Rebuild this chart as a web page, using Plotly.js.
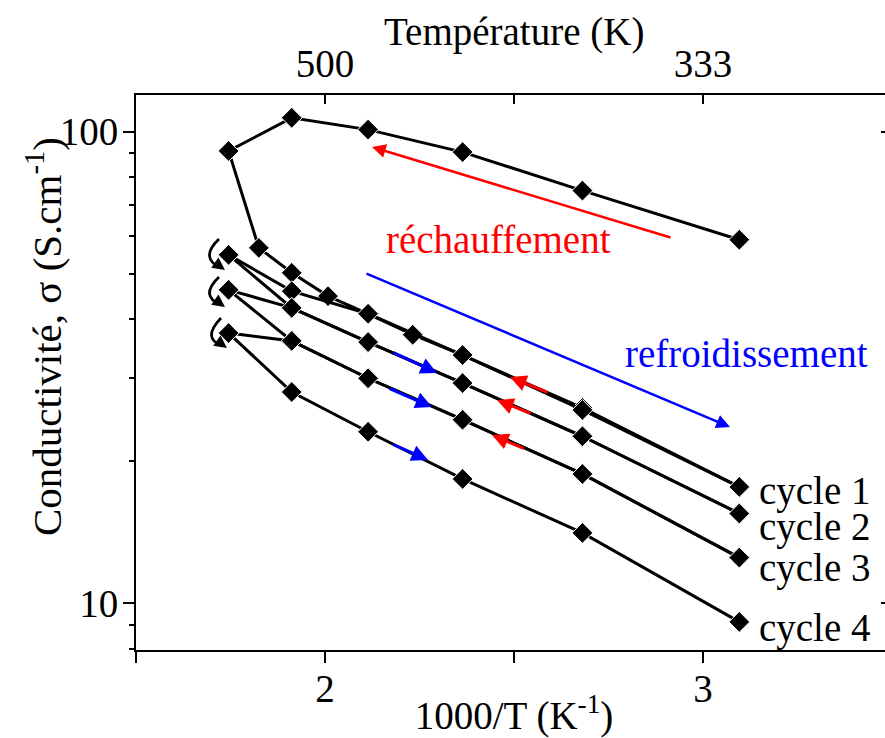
<!DOCTYPE html>
<html>
<head>
<meta charset="utf-8">
<script src="https://cdn.plot.ly/plotly-3.0.1.min.js"></script>
<style>
html,body{margin:0;padding:0;overflow:hidden;background:#fff;}
#chart{width:900px;height:738px;}
</style>
</head>
<body>
<div id="chart"></div>
<script>
// 1000/T values (K^-1)
const xHeat  = [3.096, 2.681, 2.364, 2.114, 1.912, 1.745];
const xCool  = [1.745, 1.912, 2.114, 2.364, 2.681, 3.096];
const xCool1 = [1.745, 1.825, 1.912, 2.008, 2.114, 2.232, 2.364, 2.681, 3.096];
// conductivity (S/cm)
const heat0 = [59, 75, 90.5, 101, 107, 91];
const cool1 = [91, 56.7, 50.2, 44.8, 41.1, 37.1, 33.6, 25.95, 17.65];
const heat1 = [17.65, 25.7, 33.6, 41.1, 45.9, 54.8];
const cool2 = [54.8, 42.3, 35.8, 29.3, 22.6, 15.5];
const heat2 = [15.5, 22.6, 29.3, 35.8, 42.3, 46.2];
const cool3 = [46.2, 36.0, 30.0, 24.5, 18.8, 12.5];
const heat3 = [12.5, 18.8, 24.5, 30.0, 36.0, 37.4];
const cool4 = [37.4, 28.05, 23.1, 18.35, 14.1, 9.13];
const cycleLabels = ['cycle 1', 'cycle 2', 'cycle 3', 'cycle 4'];
const xTickVals = [1.5, 2, 2.5, 3];
const xTickText = ['', '2', '', '3'];
const topTickVals = [2, 2.5, 3];
const topTickText = ['500', '', '333'];
const yTickVals = [10, 100];
const yTickText = ['10', '100'];
const yMinorVals = [8, 9, 20, 30, 40, 50, 60, 70, 80, 90];

const FONT = 'Liberation Serif, Times New Roman, serif';
const FS = 39;

function seg(x, y) {
  return {
    x: x, y: y, type: 'scatter', mode: 'lines+markers', showlegend: false,
    line: {color: 'black', width: 3},
    marker: {symbol: 'diamond', size: 16, color: 'black', line: {color: 'white', width: 1}},
    hoverinfo: 'skip'
  };
}
const traces = [
  seg(xHeat.concat(xCool1.slice(1)), heat0.concat(cool1.slice(1))),
  seg(xHeat, heat1),
  seg(xCool, cool2),
  seg(xHeat, heat2),
  seg(xCool, cool3),
  seg(xHeat, heat3),
  seg(xCool, cool4)
];
// dummy traces to activate the mirrored axes
traces.push({x: [2], y: [20], xaxis: 'x2', yaxis: 'y', mode: 'markers', marker: {opacity: 0}, showlegend: false, hoverinfo: 'skip'});
traces.push({x: [2], y: [20], xaxis: 'x', yaxis: 'y2', mode: 'markers', marker: {opacity: 0}, showlegend: false, hoverinfo: 'skip'});

// pixel -> axis helpers for decorations (plot area 136..892 x 95..650)
const X = px => 1.5 + (px - 136) / 378;
const YL = py => 2 - (py - 131.7) / 471.6;
const PX = px => (px - 136) / 756;
const PY = py => (650 - py) / 555;

const yRange = [Math.log10(7.96), Math.log10(119.6)];

function arrow(x0, y0, x1, y1, color, w) {
  return {
    xref: 'x', yref: 'y', axref: 'x', ayref: 'y',
    x: X(x1), y: YL(y1), ax: X(x0), ay: YL(y0),
    text: '', showarrow: true, arrowhead: 2, arrowsize: 1.1,
    arrowwidth: w, arrowcolor: color, standoff: 0, startstandoff: 0
  };
}
function txt(t, px, py, color, anchor) {
  return {
    xref: 'x', yref: 'y', x: X(px), y: YL(py), text: t, showarrow: false,
    xanchor: anchor || 'center', yanchor: 'middle',
    font: {family: FONT, size: FS, color: color}
  };
}
function headOnly(px, py, dx, dy) {
  return {
    xref: 'x', yref: 'y', x: X(px), y: YL(py), ax: dx, ay: dy,
    text: '', showarrow: true, arrowhead: 2, arrowsize: 1, arrowwidth: 2.5,
    arrowcolor: 'black', standoff: 0
  };
}

const annotations = [
  arrow(672, 238, 372, 147, '#ff0000', 2.5),
  arrow(365, 273, 730, 427, '#0000ff', 2.5),
  arrow(392, 352, 437, 373, '#0000ff', 3),
  arrow(388, 388, 432, 407, '#0000ff', 3),
  arrow(392, 444, 428, 460, '#0000ff', 3),
  arrow(549, 393, 510, 377, '#ff0000', 3),
  arrow(532, 414, 497, 400, '#ff0000', 3),
  arrow(525, 449, 492, 435, '#ff0000', 3),
  txt('réchauffement', 498, 240, '#ff0000'),
  txt('refroidissement', 746, 354, '#0000ff'),
  txt(cycleLabels[0], 757, 491, 'black', 'left'),
  txt(cycleLabels[1], 757, 527, 'black', 'left'),
  txt(cycleLabels[2], 757, 568, 'black', 'left'),
  txt(cycleLabels[3], 757, 628, 'black', 'left'),
  headOnly(225, 270, -7, -5),
  headOnly(225, 307, -7, -5),
  headOnly(227, 348, -7, -5),
  {
    xref: 'paper', yref: 'paper', x: PX(44), y: PY(337),
    text: 'Conductivité, σ (S.cm<sup>-1</sup>)', textangle: -90, showarrow: false,
    xanchor: 'center', yanchor: 'middle',
    font: {family: FONT, size: 41, color: 'black'}
  },
  {
    xref: 'paper', yref: 'paper', x: PX(514), y: PY(32),
    text: 'Température (K)', showarrow: false,
    xanchor: 'center', yanchor: 'middle',
    font: {family: FONT, size: FS, color: 'black'}
  }
];

function curl(x0, y0, xc, yc, x1, y1) {
  return {
    type: 'path', xref: 'paper', yref: 'paper',
    path: 'M ' + PX(x0) + ',' + PY(y0) + ' Q ' + PX(xc) + ',' + PY(yc) + ' ' + PX(x1) + ',' + PY(y1),
    line: {color: 'black', width: 2.8}
  };
}
const shapes = [
  curl(219, 239, 199, 258, 221, 268),
  curl(219, 277, 199, 296, 221, 305),
  curl(221, 318, 201, 339, 223, 346)
];

const axisCommon = {
  showgrid: false, zeroline: false, showline: true, linecolor: 'black', linewidth: 2,
  tickcolor: 'black', tickwidth: 2,
  tickfont: {family: FONT, size: FS, color: 'black'}
};

const layout = {
  width: 900, height: 738,
  margin: {l: 136, r: 8, t: 95, b: 88, pad: 0},
  paper_bgcolor: 'white', plot_bgcolor: 'white',
  font: {family: FONT, size: FS, color: 'black'},
  showlegend: false,
  xaxis: Object.assign({}, axisCommon, {
    range: [1.5, 3.5], tickmode: 'array', tickvals: xTickVals, ticktext: xTickText,
    ticks: 'outside', ticklen: 11, ticklabelstandoff: -8,
    title: {text: '1000/T (K<sup>-1</sup>)', font: {family: FONT, size: FS}, standoff: 0}
  }),
  xaxis2: Object.assign({}, axisCommon, {
    overlaying: 'x', side: 'top', range: [1.5, 3.5], tickmode: 'array',
    tickvals: topTickVals, ticktext: topTickText, ticks: 'inside', ticklen: 9
  }),
  yaxis: Object.assign({}, axisCommon, {
    type: 'log', range: yRange, tickmode: 'array', tickvals: yTickVals, ticktext: yTickText,
    ticks: 'outside', ticklen: 11, ticklabelstandoff: -3,
    minor: {tickmode: 'array', tickvals: yMinorVals, ticks: 'outside', ticklen: 5, tickwidth: 2, tickcolor: 'black'}
  }),
  yaxis2: Object.assign({}, axisCommon, {
    type: 'log', overlaying: 'y', side: 'right', range: yRange, tickmode: 'array',
    tickvals: yTickVals, showticklabels: false, ticks: 'inside', ticklen: 11,
    minor: {tickmode: 'array', tickvals: yMinorVals, ticks: 'inside', ticklen: 5, tickwidth: 2, tickcolor: 'black'}
  }),
  annotations: annotations,
  shapes: shapes
};

Plotly.newPlot('chart', traces, layout, {staticPlot: true, displayModeBar: false});
</script>
</body>
</html>
